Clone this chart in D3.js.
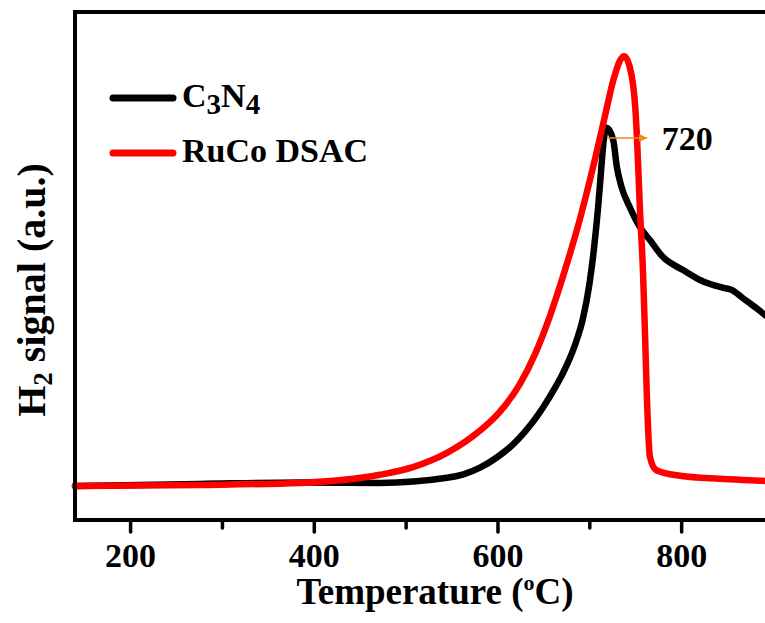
<!DOCTYPE html>
<html>
<head>
<meta charset="utf-8">
<script src="https://cdn.jsdelivr.net/npm/d3@7"></script>
<style>
  html, body { margin: 0; padding: 0; background: #fff; }
  svg { display: block; }
  text { font-family: "Liberation Serif", "Times New Roman", "DejaVu Serif", serif; font-weight: bold; fill: #000; }
</style>
</head>
<body>
<svg id="chart" width="765" height="623"></svg>
<script>
// ---- data ----
const c3n4T = [140, 276, 385, 472, 545, 563, 581, 600, 617, 630, 643, 657, 671, 684.5, 693, 700, 705, 709.5, 712.7, 715.5, 719, 726, 730, 735, 744, 755, 766, 780, 802, 821, 846, 855, 867, 882, 891, 900];
const c3n4V = [6.7, 7.1, 7.4, 7.3, 8.3, 9.0, 10.3, 12.4, 14.9, 17.4, 20.4, 24.3, 28.8, 34.5, 39.6, 46.3, 53.3, 61.4, 68.5, 74.5, 77.2, 74.8, 69.5, 65.6, 61.6, 57.7, 55.1, 51.8, 49.2, 47.2, 45.7, 45.3, 43.7, 41.7, 40.4, 39.4];

const rucoT = [140, 276, 385, 472, 508, 545, 581, 603, 624.5, 641, 657, 673.5, 690, 706, 717, 726, 733.5, 738, 744, 750, 752, 755, 758.5, 760.6, 762.8, 766, 773, 799, 842, 891, 900];
const rucoV = [6.7, 6.9, 7.3, 8.9, 10.4, 13.2, 17.6, 21.4, 26.8, 32.7, 40.1, 49.2, 59.4, 70.9, 79.5, 86.5, 90.5, 91.3, 89.2, 81.3, 74.8, 61.6, 48.6, 36.8, 23.6, 12.4, 9.8, 8.7, 8.1, 7.7, 7.6];

const seriesNames = ["C", "RuCo DSAC"];
const majorTicks = [200, 400, 600, 800];
const minorTicks = [300, 500, 700, 900];
const peakLabel = "720";
const peakT = 720;

// ---- layout ----
const svg = d3.select("#chart");
const pL = 75, pR = 773, pT = 12, pB = 520;

const x = d3.scaleLinear().domain([140, 900]).range([pL, pR]);
const y = d3.scaleLinear().domain([0, 100]).range([pB, pT]);

// curves
const line = d3.line().x(d => x(d[0])).y(d => y(d[1])).curve(d3.curveMonotoneX);

svg.append("path")
  .datum(c3n4T.map((t, i) => [t, c3n4V[i]]))
  .attr("d", line)
  .attr("fill", "none").attr("stroke", "#000").attr("stroke-width", 6.5)
  .attr("stroke-linejoin", "round").attr("stroke-linecap", "round");

svg.append("path")
  .datum(rucoT.map((t, i) => [t, rucoV[i]]))
  .attr("d", line)
  .attr("fill", "none").attr("stroke", "#ff0000").attr("stroke-width", 6.5)
  .attr("stroke-linejoin", "round").attr("stroke-linecap", "round");

// frame
svg.append("line").attr("x1", pL).attr("x2", pL).attr("y1", pT - 2).attr("y2", pB + 2)
  .attr("stroke", "#000").attr("stroke-width", 4);
svg.append("line").attr("x1", pL - 2).attr("x2", 765).attr("y1", pT).attr("y2", pT)
  .attr("stroke", "#000").attr("stroke-width", 4);
svg.append("line").attr("x1", pL - 2).attr("x2", 765).attr("y1", pB).attr("y2", pB)
  .attr("stroke", "#000").attr("stroke-width", 4);

// axes
const gMajor = svg.append("g").attr("transform", `translate(0,${pB})`)
  .call(d3.axisBottom(x).tickValues(majorTicks).tickSize(12).tickPadding(11).tickFormat(d3.format("d")));
const gMinor = svg.append("g").attr("transform", `translate(0,${pB})`)
  .call(d3.axisBottom(x).tickValues(minorTicks).tickSize(8).tickFormat(""));
[gMajor, gMinor].forEach(g => {
  g.select(".domain").remove();
  g.selectAll(".tick line").attr("stroke", "#000").attr("stroke-width", 3.5).attr("stroke-linecap", "round");
});
gMajor.selectAll(".tick text")
  .attr("font-family", "Liberation Serif, Times New Roman, serif")
  .attr("font-weight", "bold").attr("font-size", 34).attr("fill", "#000");

// axis titles
const xt = svg.append("text").attr("x", 435).attr("y", 604).attr("text-anchor", "middle")
  .attr("font-size", 37);
xt.append("tspan").text("Temperature (");
xt.append("tspan").attr("font-size", 22).attr("dy", -14).text("o");
xt.append("tspan").attr("dy", 14).text("C)");

const yt = svg.append("text").attr("transform", "translate(45,290) rotate(-90)")
  .attr("text-anchor", "middle").attr("font-size", 40);
yt.append("tspan").text("H");
yt.append("tspan").attr("font-size", 27).attr("dy", 7).text("2");
yt.append("tspan").attr("dy", -7).text(" signal (a.u.)");

// legend
svg.append("line").attr("x1", 113).attr("x2", 173).attr("y1", 98).attr("y2", 98)
  .attr("stroke", "#000").attr("stroke-width", 7).attr("stroke-linecap", "round");
svg.append("line").attr("x1", 113).attr("x2", 173).attr("y1", 153).attr("y2", 153)
  .attr("stroke", "#ff0000").attr("stroke-width", 7).attr("stroke-linecap", "round");

const l1 = svg.append("text").attr("x", 182).attr("y", 107).attr("font-size", 34);
l1.append("tspan").text(seriesNames[0]);
l1.append("tspan").attr("font-size", 29).attr("dy", 7).text("3");
l1.append("tspan").attr("dy", -7).text("N");
l1.append("tspan").attr("font-size", 29).attr("dy", 7).text("4");

svg.append("text").attr("x", 182).attr("y", 162).attr("font-size", 34).text(seriesNames[1]);

// peak annotation
const defs = svg.append("defs");
defs.append("marker").attr("id", "arr").attr("viewBox", "0 0 10 10")
  .attr("refX", 10).attr("refY", 5).attr("markerWidth", 10).attr("markerHeight", 8)
  .attr("markerUnits", "userSpaceOnUse").attr("orient", "auto")
  .append("path").attr("d", "M0,0 L10,5 L0,10 Z").attr("fill", "#f08a24");

svg.append("line")
  .attr("x1", x(peakT)).attr("x2", x(763))
  .attr("y1", y(75.2)).attr("y2", y(75.2))
  .attr("stroke", "#f08a24").attr("stroke-width", 1.5)
  .attr("marker-end", "url(#arr)");

svg.append("text").attr("x", x(779)).attr("y", y(72.8)).attr("font-size", 34).text(peakLabel);
</script>
</body>
</html>
